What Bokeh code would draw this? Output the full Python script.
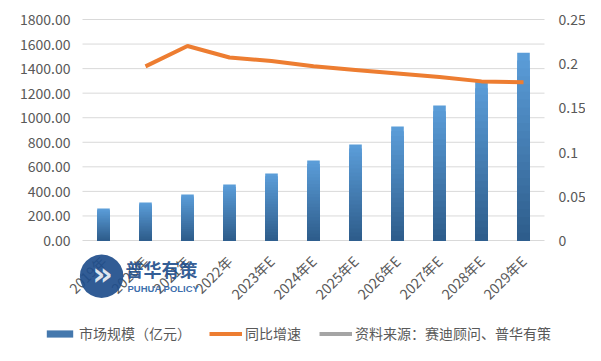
from math import pi
from bokeh.plotting import figure
from bokeh.models import (Range1d, LinearAxis, FixedTicker, NumeralTickFormatter,
                          Legend, LegendItem, Label, ColumnDataSource)
from bokeh.embed import file_html
from bokeh.resources import INLINE

years = ["2019年", "2020年", "2021年", "2022年", "2023年E", "2024年E", "2025年E",
         "2026年E", "2027年E", "2028年E", "2029年E"]
market = [260, 309, 374, 456, 545, 651, 782, 928, 1099, 1294, 1530]
growth = [float("nan"), 0.197, 0.220, 0.207, 0.203, 0.197, 0.193, 0.189, 0.185, 0.180, 0.179]
left_ticks = [0, 200, 400, 600, 800, 1000, 1200, 1400, 1600, 1800]
right_ticks = [0, 0.05, 0.1, 0.15, 0.2, 0.25]
right_labels = ["0", "0.05", "0.1", "0.15", "0.2", "0.25"]
legend_labels = ["市场规模（亿元）", "同比增速", "资料来源：赛迪顾问、普华有策"]

FONT = "Noto Sans CJK SC"
GRAY = "#595959"
NAN = float("nan")

# page geometry (pixels)
W, H = 585, 345
L, R, T, B = 82, 544, 19, 240
ncat = len(years)
slot = (R - L) / ncat
ymax = left_ticks[-1]
rmax = right_ticks[-1]

x_lo, x_hi = -L / slot, (W - L) / slot
y_hi = B * ymax / (B - T)
y_lo = (B - H) * ymax / (B - T)

p = figure(width=W, height=H, x_range=Range1d(x_lo, x_hi), y_range=Range1d(y_lo, y_hi),
           output_backend="svg", toolbar_location=None,
           x_axis_location=None, y_axis_location=None, min_border=0)
p.extra_y_ranges = {"rate": Range1d(y_lo * rmax / ymax, y_hi * rmax / ymax)}
p.outline_line_color = None
p.xgrid.visible = False
p.ygrid.visible = False
p.background_fill_color = "white"
p.border_fill_color = "white"

xs = [i + 0.5 for i in range(ncat)]

# horizontal gridlines over the plot region
p.segment(x0=[0] * len(left_ticks), x1=[ncat] * len(left_ticks), y0=left_ticks, y1=left_ticks,
          line_color="#d9d9d9", line_width=1)

# gradient bars: overlaid bars, light at top, dark at bottom
n = 24
top_c = (0x5c, 0x9e, 0xda)
bot_c = (0x2d, 0x5c, 0x8a)
bar_renderers = []
for k in range(n - 1, -1, -1):
    t = (k + 0.5) / n
    c = tuple(int(round(bot_c[j] + (top_c[j] - bot_c[j]) * t)) for j in range(3))
    col = "#%02x%02x%02x" % c
    src = ColumnDataSource(dict(x=xs, t=[v * (k + 1) / n for v in market]))
    r = p.vbar(x="x", bottom=0, top="t", width=0.30, source=src,
               fill_color=col, line_color=None)
    bar_renderers.append(r)

line_r = p.line(xs, growth, y_range_name="rate", line_color="#ed7d31", line_width=4)
# legend-only renderers (nothing visible in the plot)
src_r = p.line([NAN], [NAN], line_color="#a5a5a5", line_width=4)
leg_bar = p.vbar(x=[NAN], top=[NAN], width=0.3, fill_color="#4478ad", line_color=None)

# axes at fixed locations
la = LinearAxis(fixed_location=0, ticker=FixedTicker(ticks=left_ticks),
                formatter=NumeralTickFormatter(format="0.00"))
ra = LinearAxis(fixed_location=ncat, y_range_name="rate", ticker=FixedTicker(ticks=right_ticks),
                major_label_overrides={t: l for t, l in zip(right_ticks, right_labels)})
xa = LinearAxis(fixed_location=0, ticker=FixedTicker(ticks=xs),
                major_label_overrides={x: y for x, y in zip(xs, years)})
for ax in (la, ra, xa):
    ax.axis_line_color = None
    ax.major_tick_line_color = None
    ax.minor_tick_line_color = None
    ax.major_tick_out = 0
    ax.major_tick_in = 0
    ax.minor_tick_out = 0
    ax.major_label_text_font = FONT
    ax.major_label_text_color = GRAY
la.major_label_text_font_size = "14px"
ra.major_label_text_font_size = "14px"
la.major_label_standoff = 12
ra.major_label_standoff = 14
xa.major_label_text_font_size = "14px"
xa.major_label_orientation = pi / 4
xa.major_label_standoff = 18
p.add_layout(la, "left")
p.add_layout(ra, "right")
p.add_layout(xa, "below")

legend = Legend(items=[LegendItem(label=legend_labels[0], renderers=[leg_bar]),
                       LegendItem(label=legend_labels[1], renderers=[line_r]),
                       LegendItem(label=legend_labels[2], renderers=[src_r])],
                location=(43, 2), orientation="horizontal",
                label_text_font=FONT, label_text_font_size="14px", label_text_color=GRAY,
                glyph_width=33, glyph_height=9, label_standoff=3, spacing=18,
                padding=0, margin=0, border_line_color=None, background_fill_alpha=0)
p.add_layout(legend, "center")

# watermark logo (positions in data units of the chart)
def dx(px):
    return (px - L) / slot

def dy(py):
    return (B - py) * ymax / (B - T)

p.add_layout(Label(x=dx(101), y=dy(270), text="●",
                   text_font="DejaVu Sans", text_font_size="57px", text_color="#1f4e8c",
                   text_alpha=0.92, text_align="center", text_baseline="middle"))
p.add_layout(Label(x=dx(102), y=dy(273), text="»",
                   text_font="DejaVu Sans", text_font_size="32px", text_font_style="bold",
                   text_color="white", text_alpha=0.85, text_align="center", text_baseline="middle"))
p.add_layout(Label(x=dx(125), y=dy(268), text="普华有策",
                   text_font=FONT, text_font_size="18px", text_font_style="bold",
                   text_color="#1f4e8c", text_alpha=0.92, text_baseline="middle"))
p.add_layout(Label(x=dx(127), y=dy(288), text="PUHUA POLICY",
                   text_font="Liberation Sans", text_font_size="9.5px", text_font_style="bold",
                   text_color="#2a5fa5", text_alpha=0.92, text_baseline="middle"))

open("out.html", "w").write(file_html(p, INLINE))
